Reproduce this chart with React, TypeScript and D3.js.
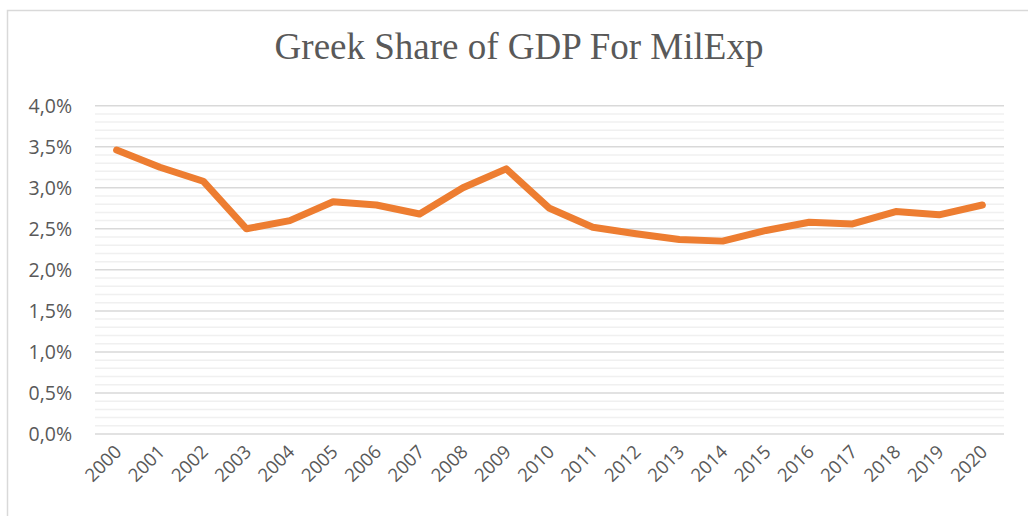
import React from "react";
import * as d3 from "d3";

const years = ["2000","2001","2002","2003","2004","2005","2006","2007","2008","2009","2010","2011","2012","2013","2014","2015","2016","2017","2018","2019","2020"];
const shareValues = [3.46,3.25,3.08,2.50,2.60,2.83,2.79,2.68,3.00,3.23,2.75,2.52,2.44,2.37,2.35,2.48,2.58,2.56,2.71,2.67,2.79];
const majorTicks = [0,0.5,1.0,1.5,2.0,2.5,3.0,3.5,4.0];
const minorTicks = d3.range(0, 41).map((i) => i / 10);
const title = "Greek Share of GDP For MilExp";

const W = 1028, H = 516;
const left = 95, right = 1004, top = 105.7, bottom = 434;

export default function App() {
  const x = d3.scalePoint<string>().domain(years).range([left, right]).padding(0.5);
  const y = d3.scaleLinear().domain([0, 4]).range([bottom, top]);
  const line = d3.line<number>().x((_, i) => x(years[i]) as number).y((d) => y(d));
  const fmt = (v: number) => v.toFixed(1).replace(".", ",") + "%";
  const labelFont = "'Open Sans', 'Noto Sans', sans-serif";
  return (
    <svg width={W} height={H} style={{ position: "absolute", left: 0, top: 0, background: "#fff" }}>
      <rect x={7.5} y={10.5} width={1040} height={540} fill="#fff" stroke="#d9d9d9" strokeWidth={1.5} />
      <text x={519} y={59} textAnchor="middle" fontFamily="'Liberation Serif', 'Times New Roman', serif" fontSize={37} fill="#595959">{title}</text>
      {minorTicks.filter((t) => Math.abs(t * 2 - Math.round(t * 2)) > 1e-6).map((t) => (
        <line key={"m" + t} x1={left} x2={right} y1={y(t)} y2={y(t)} stroke="#f0f0f0" strokeWidth={1.5} />
      ))}
      {majorTicks.map((t) => (
        <line key={"M" + t} x1={left} x2={right} y1={y(t)} y2={y(t)} stroke="#d9d9d9" strokeWidth={1.5} />
      ))}
      {majorTicks.map((t) => (
        <text key={"l" + t} x={72} y={y(t)} dy="0.36em" textAnchor="end" fontFamily={labelFont} fontSize={19.5} fill="#595959">{fmt(t)}</text>
      ))}
      {years.map((yr) => (
        <text key={yr} transform={`translate(${(x(yr) as number) + 6},${453}) rotate(-45)`} textAnchor="end" fontFamily={labelFont} fontSize={18.5} fill="#595959">{yr}</text>
      ))}
      <path d={line(shareValues) || ""} fill="none" stroke="#ED7D31" strokeWidth={7} strokeLinejoin="round" strokeLinecap="round" />
    </svg>
  );
}
